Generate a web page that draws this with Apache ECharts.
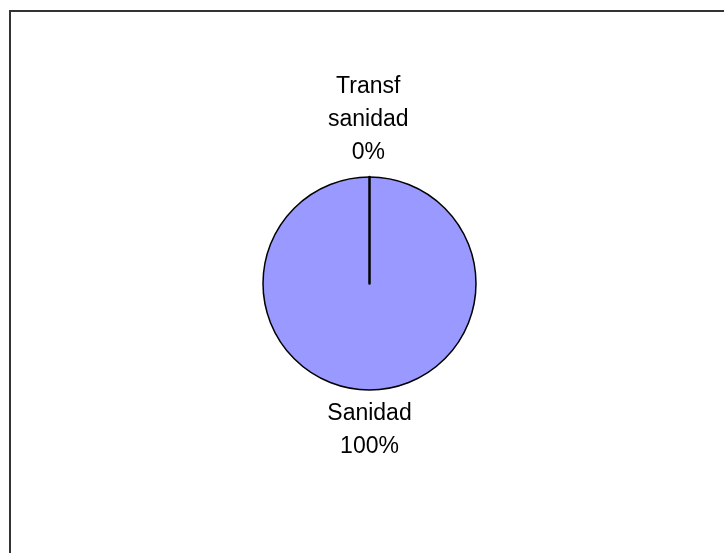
<!DOCTYPE html>
<html>
<head>
<meta charset="utf-8">
<script src="https://cdn.jsdelivr.net/npm/echarts@6/dist/echarts.min.js"></script>
<style>html,body{margin:0;padding:0;background:#fff}#c{width:724px;height:553px}</style>
</head>
<body>
<div id="c"></div>
<script>
const categories = ['Sanidad', 'Transf sanidad'];
const values = [100, 0];
const labelLines = [['Sanidad'], ['Transf', 'sanidad']];

const chart = echarts.init(document.getElementById('c'), null, {renderer: 'canvas'});
const data = categories.map((name, i) => ({
  name: name,
  value: values[i],
  itemStyle: {borderWidth: i === 0 ? 1.5 : 2.5}
}));
chart.setOption({
  animation: false,
  backgroundColor: '#ffffff',
  graphic: [{
    type: 'rect',
    silent: true,
    shape: {x: 10, y: 11, width: 800, height: 700},
    style: {fill: 'none', stroke: '#333333', lineWidth: 2}
  }],
  series: [{
    type: 'pie',
    center: [369.5, 283.5],
    radius: 106.5,
    startAngle: 90,
    clockwise: true,
    avoidLabelOverlap: false,
    data: data,
    color: ['#9999FF', '#993366'],
    itemStyle: {borderColor: '#000000'},
    emphasis: {disabled: true},
    label: {
      show: true,
      position: 'outside',
      fontFamily: 'Liberation Sans, Arial, sans-serif',
      fontSize: 23,
      lineHeight: 33,
      color: '#000000',
      formatter: function (p) {
        return labelLines[p.dataIndex].concat([Math.round(p.percent) + '%']).join('\n');
      }
    },
    labelLine: {show: false},
    labelLayout: function (p) {
      const r = p.rect;
      if (p.dataIndex === 0) {
        return {x: r.x + r.width / 2, y: r.y + r.height + 6, align: 'center', verticalAlign: 'top'};
      }
      return {x: r.x, y: r.y - 7, align: 'center', verticalAlign: 'bottom'};
    }
  }]
});
</script>
</body>
</html>
